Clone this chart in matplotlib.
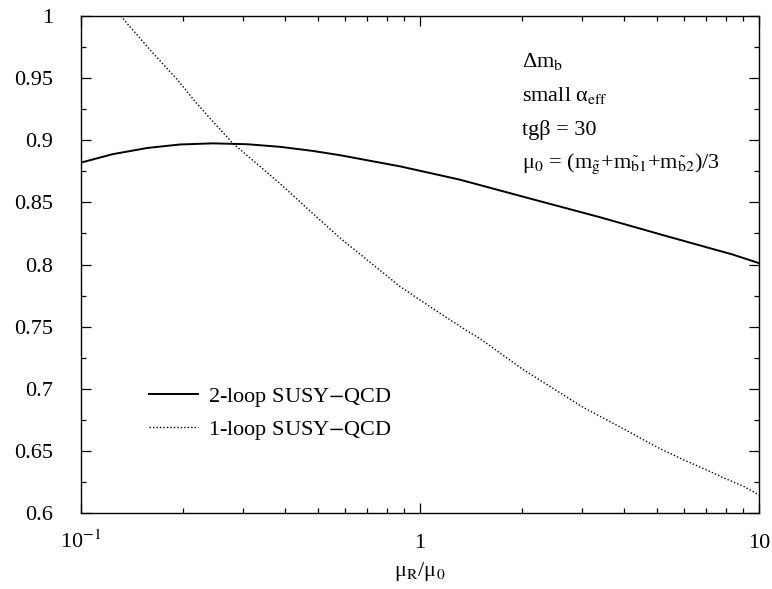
import matplotlib
matplotlib.use("Agg")
import matplotlib.pyplot as plt
from matplotlib.ticker import FixedLocator, NullFormatter

plt.rcParams['font.family'] = ['Liberation Serif', 'DejaVu Serif']
plt.rcParams['mathtext.fontset'] = 'stix'
plt.rcParams['mathtext.default'] = 'rm'

# values
x_2loop = [0.1, 0.124, 0.157, 0.196, 0.245, 0.309, 0.387, 0.483, 0.58,
           0.873, 1.31, 2.15, 3.4, 5.36, 8.37, 10]
y_2loop = [0.882, 0.8888, 0.8938, 0.8966, 0.8975, 0.8968, 0.8947, 0.8914, 0.888,
           0.879, 0.8683, 0.8525, 0.838, 0.8227, 0.808, 0.8011]

x_1loop = [0.131, 0.16, 0.192, 0.219, 0.245, 0.281, 0.321, 0.387, 0.483, 0.58,
           0.873, 1.094, 1.373, 1.5, 2, 3, 4, 5, 6, 7, 8, 9, 10]
y_1loop = [1.0, 0.9726, 0.949, 0.930, 0.915, 0.8973, 0.8839, 0.865, 0.841, 0.8215,
           0.7823, 0.7643, 0.7468, 0.7405, 0.716, 0.6857, 0.6675, 0.653, 0.6427,
           0.6347, 0.6274, 0.6215, 0.6145]

yticks = [0.6, 0.65, 0.7, 0.75, 0.8, 0.85, 0.9, 0.95, 1.0]
ytick_labels = ["0.6", "0.65", "0.7", "0.75", "0.8", "0.85", "0.9", "0.95", "1"]
xticks = [0.1, 1, 10]
xtick_labels = [r"10$^{-1}$", "1", "10"]

info = [r"Δm$_{b}$", r"small α$_{eff}$", "tgβ = 30",
        r"μ$_{0}$ = (m$_{\tilde{g}}$+m$_{\tilde{b}1}$+m$_{\tilde{b}2}$)/3"]

fs = 16

fig = plt.figure(figsize=(7.72, 5.89), dpi=100)
ax = fig.add_axes([81/772, 1 - 513/589, 678/772, 497/589])

ax.plot(x_2loop, y_2loop, color="black", lw=1.4, label="2-loop SUSY$-$QCD")
ax.plot(x_1loop, y_1loop, color="black", lw=1.0, ls=(0, (1, 1.5)),
        label="1-loop SUSY$-$QCD")

ax.set_xscale("log")
ax.set_xlim(0.1, 10)
ax.set_ylim(0.6, 1.0)

ax.xaxis.set_major_locator(FixedLocator(xticks))
ax.set_xticklabels(xtick_labels)
ax.xaxis.set_minor_locator(FixedLocator([0.2, 0.3, 0.4, 0.5, 0.6, 0.7, 0.8, 0.9,
                                         2, 3, 4, 5, 6, 7, 8, 9]))
ax.xaxis.set_minor_formatter(NullFormatter())
ax.yaxis.set_major_locator(FixedLocator(yticks))
ax.set_yticklabels(ytick_labels)
ax.yaxis.set_minor_locator(FixedLocator([0.625, 0.675, 0.725, 0.775, 0.825, 0.875, 0.925, 0.975]))

ax.tick_params(which="both", direction="in", top=True, right=True, width=0.9,
               labelsize=fs)
ax.tick_params(which="major", length=7.5)
ax.tick_params(which="minor", length=3.8)
ax.tick_params(axis="y", pad=20)
ax.tick_params(axis="x", pad=25)
for lab in ax.get_xticklabels():
    lab.set_verticalalignment("baseline")
for sp in ax.spines.values():
    sp.set_linewidth(1.0)

ax.set_xlabel(r"μ$_{R}$/μ$_{0}$", fontsize=fs, labelpad=5)

for i, line in enumerate(info):
    ax.text(0.650, 0.897 - i * 0.0678, line, transform=ax.transAxes,
            fontsize=fs, va="baseline", ha="left")

ax.legend(loc="upper left", bbox_to_anchor=(0.1, 0.255), frameon=False,
          fontsize=fs, handlelength=2.2, handletextpad=0.45, labelspacing=0.45,
          borderaxespad=0, borderpad=0)

fig.savefig("out.png", dpi=100)
